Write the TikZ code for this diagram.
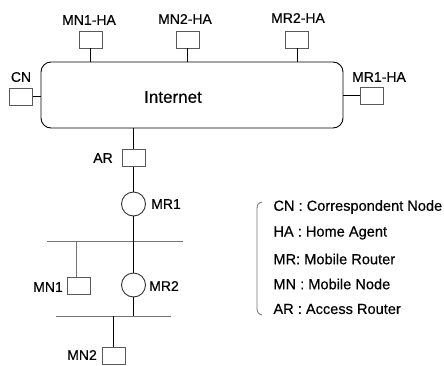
\documentclass[tikz,border=0pt]{standalone}
\usepackage{fontspec}
\setmainfont{Liberation Sans}[FakeBold=0.35]
\begin{document}
\begin{tikzpicture}[x=1pt,y=-1pt,line width=0.9pt,
  hostbox/.style={draw=black!65,fill=white,minimum width=23pt,minimum height=17pt,inner sep=0pt},
  router/.style={draw=black!80,circle,minimum size=24pt,inner sep=0pt},
  lbl/.style={font=\fontsize{14}{16}\selectfont,inner sep=0pt},
  legend/.style={font=\fontsize{14.6}{16}\selectfont,inner sep=0pt,anchor=west},
  bus/.style={draw=black!55,line width=1pt}]
\useasboundingbox (0,0) rectangle (444,365);

% Internet cloud
\node[draw,rounded corners=10pt,minimum width=302pt,minimum height=66pt,inner sep=0pt] (inet) at (192,95) {};
\node[font=\fontsize{17}{20}\selectfont,inner sep=0pt] (inettxt) at (173,97) {Internet};

% Hosts attached to the Internet
\node[hostbox] (mn1ha) at (90.5,39.5) {};
\node[hostbox] (mn2ha) at (187.5,39.5) {};
\node[hostbox] (mr2ha) at (297,39.5) {};
\node[hostbox] (mr1ha) at (372,95.5) {};
\node[hostbox] (cn) at (21,96.5) {};
\node[hostbox] (ar) at (133.5,158) {};

\node[lbl] (lmn1ha) at (89,20) {MN1-HA};
\node[lbl] (lmn2ha) at (185,19) {MN2-HA};
\node[lbl] (lmr2ha) at (298,18) {MR2-HA};
\node[lbl] (lmr1ha) at (379,77) {MR1-HA};
\node[lbl] (lcn) at (21,77) {CN};
\node[lbl] (lar) at (103,158) {AR};

\draw (mn1ha.south) -- (mn1ha.south |- inet.north);
\draw (mn2ha.south) -- (mn2ha.south |- inet.north);
\draw (mr2ha.south) -- (mr2ha.south |- inet.north);
\draw (mr1ha.west) -- (mr1ha.west -| inet.east);
\draw (cn.east) -- (cn.east -| inet.west);
\draw (ar.north) -- (ar.north |- inet.south);

% Mobile network
\node[router] (mr1) at (133.5,204) {};
\node[router] (mr2) at (133.5,285) {};
\node[lbl] (lmr1) at (166,204) {MR1};
\node[lbl] (lmr2) at (164,286) {MR2};
\draw (ar.south) -- (mr1.north);

\coordinate (b1l) at (47,241);
\coordinate (b1r) at (183,241);
\coordinate (b2l) at (56,316);
\coordinate (b2r) at (171,316);
\draw[bus] (b1l) -- (b1r);
\draw[bus] (b2l) -- (b2r);

\draw (mr1.south) -- (mr2.north);
\draw (mr2.south) -- (mr2.south |- b2l);

\node[hostbox] (mn1) at (79,285.5) {};
\node[hostbox] (mn2) at (113.5,355.5) {};
\node[lbl] (lmn1) at (48,287) {MN1};
\node[lbl] (lmn2) at (82,355) {MN2};
\coordinate (mn1top) at (76,277);
\draw[draw=black!55] (mn1top) -- (mn1top |- b1l);
\draw (mn2.north) -- (mn2.north |- b2l);

% Legend
\draw[draw=black!55,line width=0.8pt] (262,202) .. controls (258,203) and (257,205) .. (257,209)
  -- (257,308) .. controls (257,312) and (258,314) .. (262,315);
\node[legend] (k1) at (273,207) {CN : Correspondent Node};
\node[legend] (k2) at (273,233) {HA : Home Agent};
\node[legend] (k3) at (273,259) {MR: Mobile Router};
\node[legend] (k4) at (273,284) {MN : Mobile Node};
\node[legend] (k5) at (273,309) {AR : Access Router};
\end{tikzpicture}
\end{document}
